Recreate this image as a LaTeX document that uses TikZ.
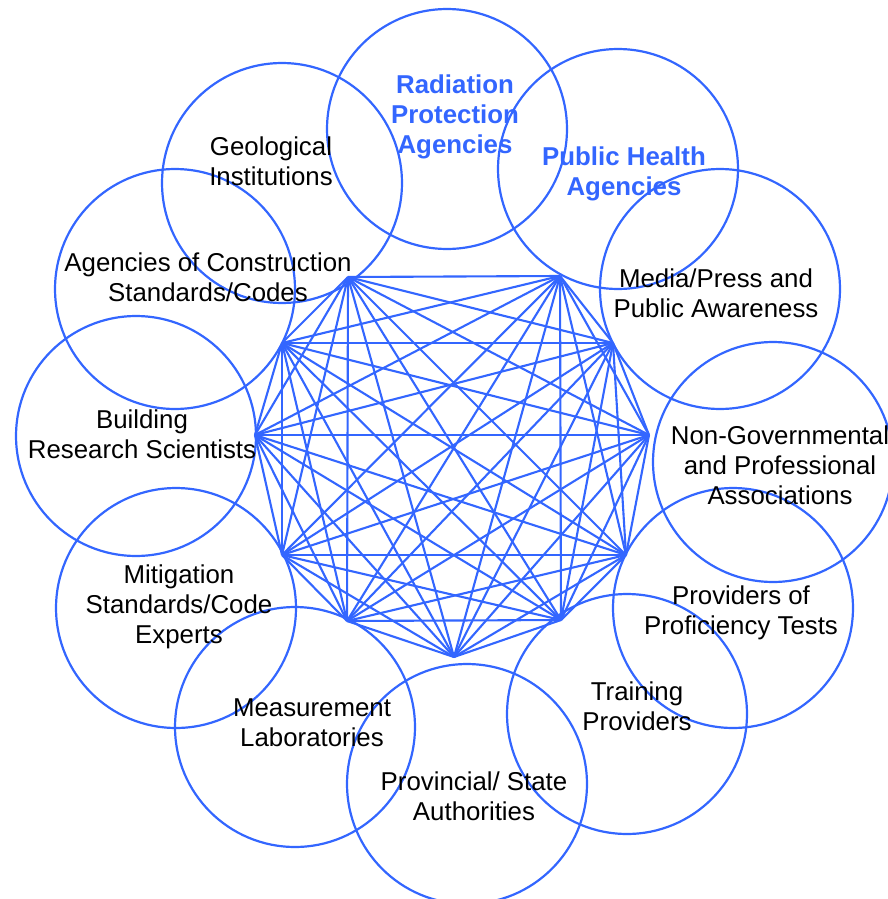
\documentclass[tikz,border=0pt]{standalone}
\usepackage{fontspec}
\setmainfont{Liberation Sans}
\definecolor{netBlue}{RGB}{51,102,255}

\begin{document}
\begin{tikzpicture}
[x=0.02cm,y=-0.02cm,%
  ringDecorate/.style={shape=circle,draw=netBlue,line width=1.25pt,minimum size=4.8cm,inner sep=0pt},%
  lineDecorate/.style={-,draw=netBlue,line width=1.2pt},%
  textDecorate/.style={align=center,inner sep=0pt,font=\fontsize{14.7}{17.1}\selectfont},%
  headDecorate/.style={textDecorate,text=netBlue,font=\fontsize{14.7}{17.1}\selectfont\bfseries}]
\useasboundingbox (0,0) rectangle (888,899);
%% circles round the ring
\foreach \ringname/\x/\y in {radiation/447/129, health/618/169, media/720/289,
  ngo/773/462, proficiency/733/608, training/627/714, provincial/467/784,
  laboratory/295/727, mitigation/176/608, research/136/436,
  construction/175/289, geology/282/183}
{
  \node (\ringname) at (\x,\y) [ringDecorate] {};
}
%% hub points
\foreach \nodename/\x/\y in {1/348/277, 2/560/276, 3/613/343, 4/649/435,
  5/626/555, 6/561/620, 7/454/657, 8/347/621, 9/282/555, 10/255/435, 11/282/343}
{
  \coordinate (\nodename) at (\x,\y);
}
%% every hub point joined to every other one
\foreach \startnode in {1,...,10}
{
  \pgfmathtruncatemacro{\nextnode}{\startnode+1}
  \foreach \endnode in {\nextnode,...,11}
  {
    \draw[lineDecorate] (\startnode) -- (\endnode);
  }
}
%% labels
\node (radiationText) at (455,117) [headDecorate] {Radiation\\Protection\\Agencies};
\node (healthText) at (624,174) [headDecorate] {Public Health\\Agencies};
\node (geologyText) at (271,161) [textDecorate] {Geological\\Institutions};
\node (constructionText) at (208,277) [textDecorate] {Agencies of Construction\\Standards/Codes};
\node (researchText) at (142,434) [textDecorate] {Building\\Research Scientists};
\node (mitigationText) at (179,607) [textDecorate] {Mitigation\\Standards/Code\\Experts};
\node (laboratoryText) at (312,723) [textDecorate] {Measurement\\Laboratories};
\node (provincialText) at (474,796) [textDecorate] {Provincial/ State\\Authorities};
\node (trainingText) at (637,706) [textDecorate] {Training\\Providers};
\node (proficiencyText) at (741,613) [textDecorate] {Providers of\\Proficiency Tests};
\node (ngoText) at (780,465) [textDecorate] {Non-Governmental\\and Professional\\Associations};
\node (mediaText) at (716,293) [textDecorate] {Media/Press and\\Public Awareness};
\end{tikzpicture}
\end{document}
